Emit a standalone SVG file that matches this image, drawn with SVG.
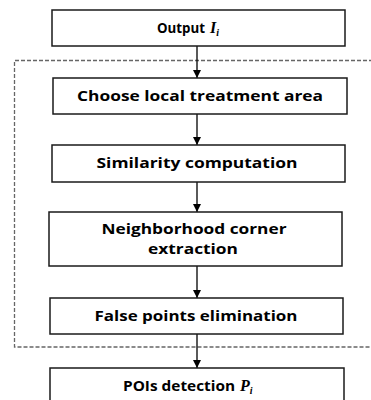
<svg xmlns="http://www.w3.org/2000/svg" width="371" height="400" viewBox="0 0 371 400">
<style>
.box{fill:#fff;stroke:#1a1a1a;stroke-width:1.5}
.t{font-family:"Open Sans","DejaVu Sans",sans-serif;font-weight:bold;font-size:14px;fill:#000;text-anchor:middle}
.l{text-anchor:start}
.m{font-family:"Liberation Serif",serif;font-style:italic;font-weight:bold;font-size:16px;text-anchor:start}
.s{font-size:10px}
.c{stroke:#000;stroke-width:1.3;fill:none;marker-end:url(#ah)}
</style>
<defs>
<marker id="ah" viewBox="0 0 8 8" refX="8" refY="4" markerWidth="8" markerHeight="8" markerUnits="userSpaceOnUse" orient="auto">
<path d="M0,0 L8,4 L0,8 Z" fill="#000"/>
</marker>
</defs>
<rect x="0" y="0" width="371" height="400" fill="#fff"/>
<path id="group" d="M373,60.5 H14.5 V347 H373" fill="none" stroke="#666" stroke-width="1.3" stroke-dasharray="4 2"/>
<g id="connectors">
<line class="c" x1="197" y1="46" x2="197" y2="78"/>
<line class="c" x1="197" y1="114" x2="197" y2="145"/>
<line class="c" x1="197" y1="182" x2="197" y2="212"/>
<line class="c" x1="197" y1="266" x2="197" y2="298"/>
<line class="c" x1="197" y1="334" x2="197" y2="368"/>
</g>
<g id="output">
<rect class="box" x="52" y="10" width="293" height="36"/>
<text class="t l" x="157" y="33" textLength="48" lengthAdjust="spacingAndGlyphs">Output</text>
<text class="m" x="210" y="33">I<tspan class="s" dy="3">i</tspan></text>
</g>
<g id="choose">
<rect class="box" x="53" y="78" width="294" height="36"/>
<text class="t" x="200" y="101" textLength="246" lengthAdjust="spacingAndGlyphs">Choose local treatment area</text>
</g>
<g id="similarity">
<rect class="box" x="52" y="145" width="293" height="37"/>
<text class="t" x="197" y="168" textLength="201" lengthAdjust="spacingAndGlyphs">Similarity computation</text>
</g>
<g id="neighborhood">
<rect class="box" x="49" y="212" width="293" height="54"/>
<text class="t" x="194" y="234" textLength="185" lengthAdjust="spacingAndGlyphs">Neighborhood corner</text>
<text class="t" x="193" y="254" textLength="90" lengthAdjust="spacingAndGlyphs">extraction</text>
</g>
<g id="false">
<rect class="box" x="50" y="298" width="293" height="36"/>
<text class="t" x="196" y="321" textLength="203" lengthAdjust="spacingAndGlyphs">False points elimination</text>
</g>
<g id="pois">
<rect class="box" x="50" y="368" width="294" height="36"/>
<text class="t l" x="123" y="391" textLength="112" lengthAdjust="spacingAndGlyphs">POIs detection</text>
<text class="m" x="240" y="391">P<tspan class="s" dy="3">i</tspan></text>
</g>
</svg>
